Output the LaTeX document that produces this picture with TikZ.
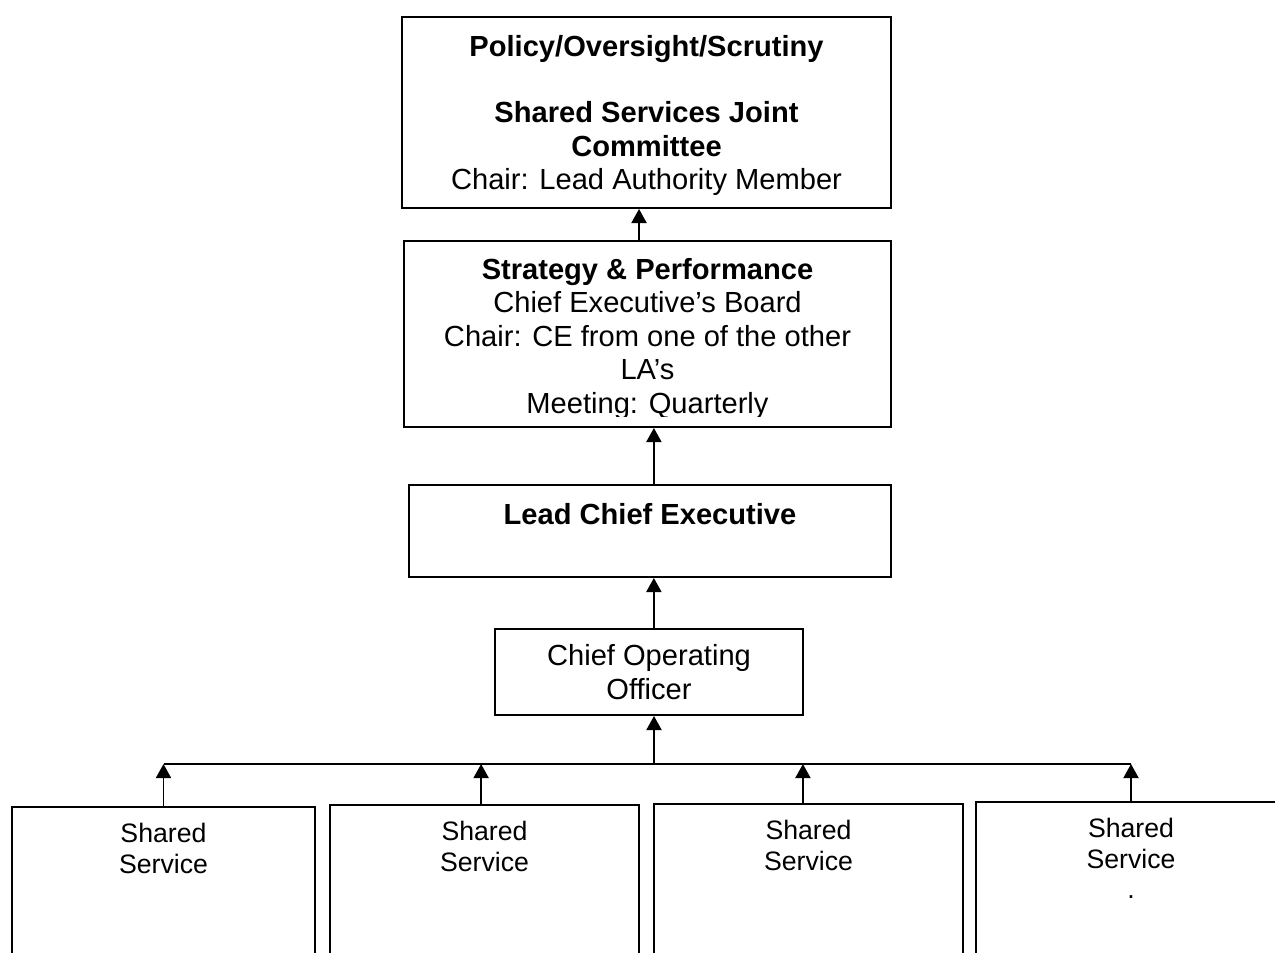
\documentclass[tikz,border=0pt]{standalone}
\usepackage{fontspec}
\setmainfont{Liberation Sans}
\usetikzlibrary{arrows.meta}
\newdimen\pxu \pxu=0.4124pt

\begin{document}
\begin{tikzpicture}
	[	x=0.4124pt,y=-0.4124pt,
	box/.style={rectangle,draw=black,line width=0.8pt,align=center,inner sep=0pt,font=\fontsize{12}{13.8}\selectfont},
	boxtext/.style={draw=none,fill=none,align=center,inner sep=0pt,font=\fontsize{12}{13.8}\selectfont},
	ssbox/.style={rectangle,draw=black,line width=0.8pt,minimum height=200*\pxu},
	plain/.style={draw=none,fill=none,align=center,inner sep=0pt,anchor=north,font=\fontsize{11}{12.65}\selectfont},
	arr/.style={-{Triangle[length=5.8pt,width=6.2pt]},line width=0.8pt}
	]
	\useasboundingbox (0,0) rectangle (1275,952);
	\clip (0,0) rectangle (1275,952);
	\node[box,minimum width=489*\pxu,minimum height=191*\pxu] (policy) at (646.5,112.5){};
	\node[boxtext] (policyt) at ([yshift=-1.2pt]policy.center)
		{\textbf{Policy/Oversight/Scrutiny}\\ ~\\\textbf{Shared Services Joint}\\\textbf{Committee}\\Chair: Lead Authority Member};
	\node[box,minimum width=487*\pxu,minimum height=186*\pxu] (strat) at (647.5,334){};
	\begin{scope}
		\clip (strat.north west) rectangle ([yshift=4.9pt]strat.south east);
		\node[boxtext] (stratt) at ([yshift=-1.9pt]strat.center)
			{\textbf{Strategy \& Performance}\\Chief Executive’s Board\\Chair: CE from one of the other\\LA’s\\Meeting: Quarterly};
	\end{scope}
	\node[box,minimum width=482*\pxu,minimum height=92*\pxu] (lce) at (650,531)
		{\textbf{Lead Chief Executive}\\ ~};
	\node[box,minimum width=308*\pxu,minimum height=86*\pxu] (coo) at (649,672)
		{Chief Operating\\Officer};
	\node[ssbox,minimum width=303*\pxu] (ss1) at (163.5,907){};
	\node[ssbox,minimum width=309*\pxu] (ss2) at (484.5,905){};
	\node[ssbox,minimum width=309*\pxu] (ss3) at (808.5,904){};
	\node[ssbox,minimum width=310*\pxu] (ss4) at (1131,902){};
\node[plain] (ss1t) at ([yshift=-6.8pt]ss1.north){Shared\\Service};
\node[plain] (ss2t) at ([yshift=-6.8pt]ss2.north){Shared\\Service};
\node[plain] (ss3t) at ([yshift=-6.8pt]ss3.north){Shared\\Service};
\node[plain] (ss4t) at ([yshift=-6.8pt]ss4.north){Shared\\Service\\.};
	\coordinate (bus) at (654,764);
	\draw[arr] ([xshift=-3.5pt]strat.north) -- ([xshift=-3.5pt]strat.north |- policy.south);
	\draw[arr] ([xshift=1.6pt]lce.north) -- ([xshift=1.6pt]lce.north |- strat.south);
	\draw[arr] ([xshift=2pt]coo.north) -- ([xshift=2pt]coo.north |- lce.south);
	\draw[arr] (bus) -- (bus |- coo.south);
	\draw[line width=0.8pt] (bus -| ss1.north) -- (bus -| ss4.north);
	\draw[arr] (ss1.north) -- (ss1.north |- bus);
	\draw[arr] ([xshift=-1.4pt]ss2.north) -- ([xshift=-1.4pt]ss2.north |- bus);
	\draw[arr] ([xshift=-2.3pt]ss3.north) -- ([xshift=-2.3pt]ss3.north |- bus);
	\draw[arr] (ss4.north) -- (ss4.north |- bus);
\end{tikzpicture}
\end{document}
